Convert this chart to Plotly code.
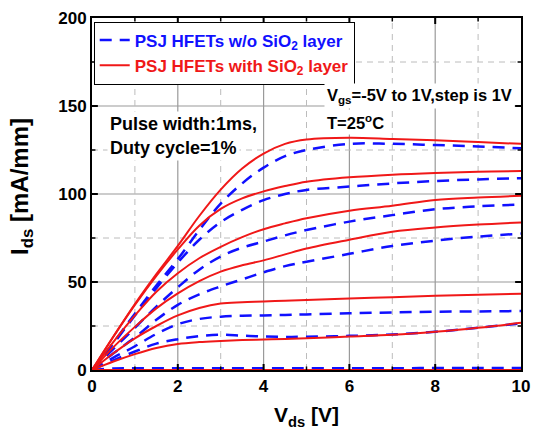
import plotly.graph_objects as go

vds = [0, 0.5, 1, 1.5, 2, 2.5, 3, 3.5, 4, 4.5, 5, 6, 7, 8, 9, 10]

# with SiO2 layer (red, solid), Vgs = -5 ... 1 V
red_m5 = [0, 0, 0, 0, 0, 0, 0, 0, 0, 0, 0, 0, 0, 0, 0, 0]
red_m4 = [0, 4.8, 9, 12.5, 14.8, 15.9, 16.5, 17, 17.3, 17.6, 18, 19, 20, 21.7, 24, 26.8]
red_m3 = [0, 9.5, 18, 25, 31, 35.2, 37.8, 38.5, 38.9, 39.4, 39.8, 40.6, 41.4, 42.2, 42.8, 43.3]
red_m2 = [0, 13, 24.5, 35, 43.5, 50.5, 55.9, 59.5, 62.3, 65.7, 69, 74, 78.6, 81, 82.6, 83.8]
red_m1 = [0, 16, 31, 44.5, 55, 63.5, 70, 75.5, 80, 83.3, 86.2, 90.5, 93.3, 96.6, 98, 99]
red_0 = [0, 19, 37, 53.5, 68.5, 82, 91.5, 97.5, 101.5, 104.5, 107, 109.5, 111, 112, 112.7, 113]
red_p1 = [0, 19, 37.5, 54.5, 70.5, 87.5, 102.5, 114.5, 123, 128.5, 131, 132, 131.3, 130.5, 129.5, 128.5]

# without SiO2 layer (blue, dashed)
blue_m5 = [0, 0.9, 1, 1, 1, 1, 1, 1, 1, 1, 1, 1, 1, 1.1, 1.1, 1.2]
blue_m4 = [0, 5.5, 10.5, 15, 17.5, 19.2, 20, 19.5, 19, 18.8, 18.9, 19.4, 20.2, 21.7, 24, 26.5]
blue_m3 = [0, 7, 13.5, 20.5, 26, 29, 30.3, 30.8, 31, 31.3, 31.6, 32.2, 32.7, 33.1, 33.3, 33.5]
blue_m2 = [0, 9.5, 18.5, 28.5, 37, 43, 47.5, 51.5, 55.5, 59, 61.5, 66, 70.5, 73.5, 75.8, 77.5]
blue_m1 = [0, 12, 24, 36, 47, 57, 64.5, 69.5, 73, 76.5, 79.5, 84.3, 88, 91.3, 93, 94]
blue_0 = [0, 15, 31, 46.5, 61, 74, 84, 91, 96.5, 100, 102.3, 104.2, 106, 107.4, 108.3, 109]
blue_p1 = [0, 15.5, 32, 48, 63, 79.5, 94.5, 106, 115, 121.5, 125, 128.5, 128.5, 127.8, 127, 126]

blue_sets = [blue_m5, blue_m4, blue_m3, blue_m2, blue_m1, blue_0, blue_p1]
red_sets = [red_m5, red_m4, red_m3, red_m2, red_m1, red_0, red_p1]

x_ticks = [0, 2, 4, 6, 8, 10]
y_ticks = [0, 50, 100, 150, 200]
x_minor = [1, 3, 5, 7, 9]
y_minor = [25, 75, 125, 175]

BLUE = "#1010ff"
RED = "#f01818"
FONT = "Liberation Sans, Arial, sans-serif"

fig = go.Figure()
for i, ys in enumerate(blue_sets):
    fig.add_trace(go.Scatter(
        x=vds, y=ys, mode="lines",
        line=dict(color=BLUE, width=2.5, dash="12px,8px", shape="spline", smoothing=1.0),
        name="<span style='color:%s'><b>PSJ HFETs w/o SiO<sub>2</sub> layer</b></span>" % BLUE,
        legendgroup="b", showlegend=(i == 0)))
for i, ys in enumerate(red_sets):
    fig.add_trace(go.Scatter(
        x=vds, y=ys, mode="lines",
        line=dict(color=RED, width=2, shape="spline", smoothing=1.0),
        name="<span style='color:%s'><b>PSJ HFETs with SiO<sub>2</sub> layer</b></span>" % RED,
        legendgroup="r", showlegend=(i == 0)))

fig.update_xaxes(
    range=[0, 10], tickmode="array", tickvals=x_ticks, ticktext=["<b>%g</b>" % v for v in x_ticks],
    showline=True, linecolor="black", linewidth=2, mirror=True,
    ticks="", showgrid=False, zeroline=False,
    tickfont=dict(family=FONT, size=17, color="black"),
    title=dict(text="<b>V<sub>ds</sub> [V]</b>", font=dict(family=FONT, size=21, color="black"), standoff=12),
)
fig.update_yaxes(
    range=[0, 200], tickmode="array", tickvals=y_ticks, ticktext=["<b>%g</b>" % v for v in y_ticks],
    showline=True, linecolor="black", linewidth=2, mirror=True,
    ticks="", showgrid=False, zeroline=False,
    tickfont=dict(family=FONT, size=17, color="black"),
)

# gridlines and inside ticks (drawn as shapes; near-solid dash pattern)
PH, PW = 352.0, 438.0  # plot area size in px
SOLID = "2000px,1px"
def vline(v, dash, color, width, layer, y0=0, y1=1):
    fig.add_shape(type="line", xref="x", yref="paper", x0=v, x1=v, y0=y0, y1=y1,
                  line=dict(color=color, width=width, dash=dash), layer=layer)
def hline(v, dash, color, width, layer, x0=0, x1=1):
    fig.add_shape(type="line", xref="paper", yref="y", x0=x0, x1=x1, y0=v, y1=v,
                  line=dict(color=color, width=width, dash=dash), layer=layer)

for v in x_ticks[1:-1]:
    vline(v, SOLID, "#9a9a9a", 1.2, "below")
for v in y_ticks[1:-1]:
    hline(v, SOLID, "#9a9a9a", 1.2, "below")
for v in x_minor:
    vline(v, "6px,5px", "#bcbcbc", 1, "below")
for v in y_minor:
    hline(v, "6px,5px", "#bcbcbc", 1, "below")

for vals, ln, wd in ((x_ticks[1:-1], 6, 2), (x_minor, 3.5, 1.5)):
    for v in vals:
        vline(v, SOLID, "black", wd, "above", 0, ln / PH)
        vline(v, SOLID, "black", wd, "above", 1 - ln / PH, 1)
for vals, ln, wd in ((y_ticks[1:-1], 6, 2), (y_minor, 3.5, 1.5)):
    for v in vals:
        hline(v, SOLID, "black", wd, "above", 0, ln / PW)
        hline(v, SOLID, "black", wd, "above", 1 - ln / PW, 1)

notes = [
    ("<b>Pulse width:1ms,</b>", 0.36, 139.5, 18),
    ("<b>Duty cycle=1%</b>", 0.36, 126.2, 18),
    ("<b>V<sub>gs</sub>=-5V to 1V,step is 1V</b>", 5.4, 155.5, 16.5),
    ("<b>T=25<sup>o</sup>C</b>", 5.4, 140.8, 16.5),
]
for txt, xx, yy, fs in notes:
    fig.add_annotation(text=txt, x=xx, y=yy, xref="x", yref="y", xanchor="left", yanchor="middle",
                       align="left", showarrow=False, bgcolor="white", borderpad=2,
                       font=dict(family=FONT, size=fs, color="black"))

fig.add_annotation(text="<b>I<sub>ds</sub> [mA/mm]</b>", xref="paper", yref="paper",
                   x=0, y=0.52, xshift=-70, textangle=-90, showarrow=False,
                   xanchor="center", yanchor="middle",
                   font=dict(family=FONT, size=24, color="black"))

fig.update_layout(
    width=539, height=438,
    margin=dict(l=92, r=9, t=18, b=68),
    paper_bgcolor="white", plot_bgcolor="white",
    showlegend=True,
    legend=dict(x=0.004, y=0.99, xanchor="left", yanchor="top",
                bgcolor="white", bordercolor="black", borderwidth=1,
                font=dict(family=FONT, size=17, color="black"),
                tracegroupgap=0, itemwidth=30),
)

fig.write_html("out.html")
